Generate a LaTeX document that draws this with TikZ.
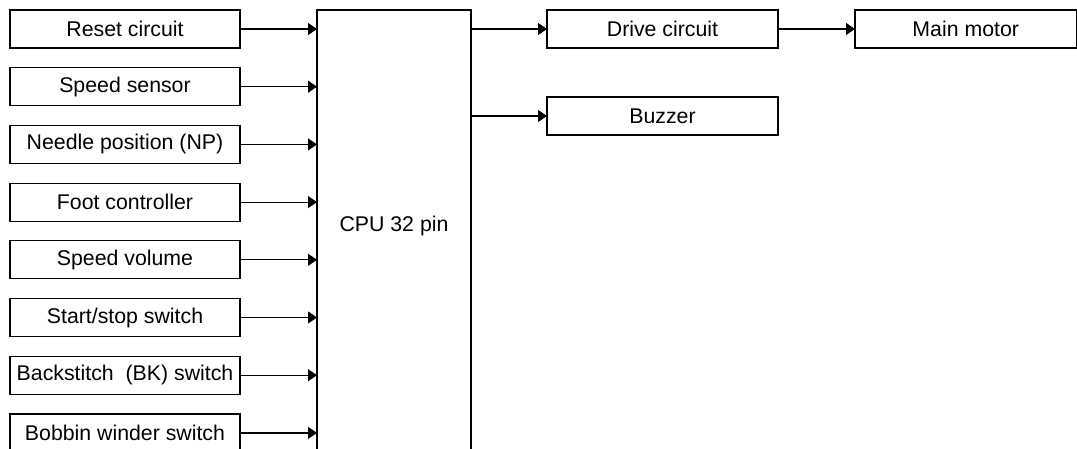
\documentclass[tikz,border=0pt]{standalone}
\usepackage{fontspec}
\setmainfont{Liberation Sans}
\usetikzlibrary{arrows.meta}
\begin{document}
\begin{tikzpicture}[x=1pt,y=-1pt,
  txt/.style={font=\fontsize{21.3}{25}\selectfont},
  box/.style={draw=black,line width=1.2pt,rectangle,inner sep=0pt,outer sep=0pt,minimum height=38pt,txt},
  inbox/.style={box,minimum width=230pt},
  outbox/.style={box,minimum width=231pt},
  arr/.style={line width=1.2pt,-{Triangle[length=9pt,width=12pt]}}]
\useasboundingbox (0,0) rectangle (1077,448);
\node[inbox] (b1) at (125,29) {Reset circuit};
\node[inbox] (b2) at (125,86.7) {Speed sensor};
\node[inbox] (b3) at (125,144.4) {Needle position (NP)};
\node[inbox] (b4) at (125,202.1) {Foot controller};
\node[inbox] (b5) at (125,259.8) {Speed volume};
\node[inbox] (b6) at (125,317.5) {Start/stop switch};
\node[inbox] (b7) at (125,375.2) {Backstitch\ \ (BK) switch};
\node[inbox] (b8) at (125,432.9) {Bobbin winder switch};
\node[box,minimum width=154pt,minimum height=460pt] (cpu) at (394,240) {};
\node[txt,inner sep=0pt] (cputext) at (394,226) {CPU 32 pin};
\node[outbox] (drive) at (662.5,29) {Drive circuit};
\node[outbox] (buzzer) at (662.5,116) {Buzzer};
\node[box,minimum width=221.5pt] (motor) at (965.75,29) {Main motor};
\foreach \i in {1,...,8}{
  \draw[arr] (b\i.east) -- (b\i.east -| cpu.west);
}
\draw[arr] (cpu.east |- drive.west) -- (drive.west);
\draw[arr] (cpu.east |- buzzer.west) -- (buzzer.west);
\draw[arr] (drive.east) -- (motor.west);
\end{tikzpicture}
\end{document}
